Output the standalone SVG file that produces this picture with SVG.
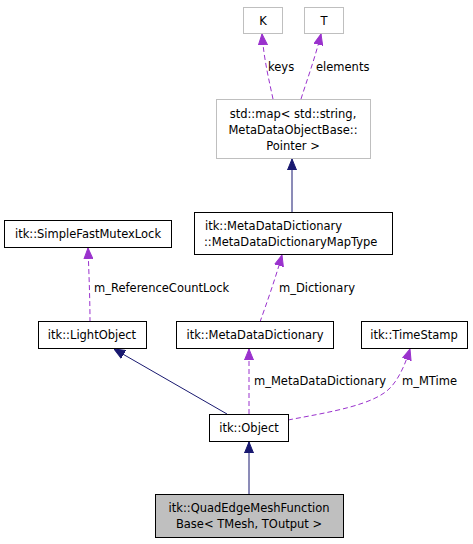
<svg xmlns="http://www.w3.org/2000/svg" width="473" height="544" viewBox="0 0 473 544">
<style>
text{font-family:"DejaVu Sans","Liberation Sans",sans-serif;font-size:11.5px;fill:#000}
.n{fill:#fff;stroke:#000;stroke-width:1}
.g{fill:#fff;stroke:#bfbfbf;stroke-width:1}
.h{fill:#bfbfbf;stroke:#000;stroke-width:1}
.d{fill:none;stroke:#9a32cd;stroke-width:1;stroke-dasharray:5,3}
.s{fill:none;stroke:#191970;stroke-width:1}
.m{text-anchor:middle}
</style>
<defs>
<marker id="ap" markerUnits="userSpaceOnUse" markerWidth="11" markerHeight="10" refX="11" refY="5" orient="auto" viewBox="0 0 11 10">
<path d="M0,0.5 L11,5 L0,9.5 z" fill="#9a32cd" stroke="#9a32cd"/>
</marker>
<marker id="as" markerUnits="userSpaceOnUse" markerWidth="11" markerHeight="10" refX="11" refY="5" orient="auto" viewBox="0 0 11 10">
<path d="M0,0.5 L11,5 L0,9.5 z" fill="#191970" stroke="#191970"/>
</marker>
</defs>
<g id="edges">
<path class="d" d="M273,99 C269,80 264,60 262,34" marker-end="url(#ap)"/>
<text x="268" y="71">keys</text>
<path class="d" d="M301,99 C307,80 315,58 321,34" marker-end="url(#ap)"/>
<text x="316" y="71">elements</text>
<path class="s" d="M292,212 L292,159" marker-end="url(#as)"/>
<path class="d" d="M90,322 C90,300 89,275 88,248" marker-end="url(#ap)"/>
<text x="94" y="292">m_ReferenceCountLock</text>
<path class="d" d="M260,322 C266,305 275,280 282,255" marker-end="url(#ap)"/>
<text x="279" y="292">m_Dictionary</text>
<path class="s" d="M227,414 L114,349" marker-end="url(#as)"/>
<path class="d" d="M249,414 L249,349" marker-end="url(#ap)"/>
<text x="254" y="385">m_MetaDataDictionary</text>
<path class="d" d="M288,420 C330,412 375,405 391,387 C400,377 406,362 410,349" marker-end="url(#ap)"/>
<text x="402" y="385">m_MTime</text>
<path class="s" d="M249,494 L249,442" marker-end="url(#as)"/>
</g>
<g id="K"><rect class="g" x="243.5" y="7.5" width="39" height="26"/><text class="m" x="263" y="24.5">K</text></g>
<g id="T"><rect class="g" x="304.5" y="7.5" width="39" height="26"/><text class="m" x="324" y="24.5">T</text></g>
<g id="stdmap"><rect class="g" x="216.5" y="99.5" width="154" height="59"/>
<text class="m" x="293" y="117.5">std::map&lt; std::string,</text>
<text class="m" x="293" y="133.5">MetaDataObjectBase::</text>
<text class="m" x="293" y="149.5">Pointer &gt;</text></g>
<g id="mutex"><rect class="n" x="4.5" y="220.5" width="167" height="27"/><text class="m" x="88" y="238">itk::SimpleFastMutexLock</text></g>
<g id="maptype"><rect class="n" x="194.5" y="212.5" width="198" height="42"/>
<text x="205" y="229.5">itk::MetaDataDictionary</text>
<text x="204" y="245.5">::MetaDataDictionaryMapType</text></g>
<g id="lightobject"><rect class="n" x="38.5" y="321.5" width="108" height="27"/><text class="m" x="92" y="339">itk::LightObject</text></g>
<g id="mdd"><rect class="n" x="176.5" y="321.5" width="157" height="27"/><text class="m" x="255" y="339">itk::MetaDataDictionary</text></g>
<g id="timestamp"><rect class="n" x="361.5" y="321.5" width="106" height="27"/><text class="m" x="414" y="339">itk::TimeStamp</text></g>
<g id="object"><rect class="n" x="209.5" y="414.5" width="79" height="27"/><text class="m" x="249" y="432">itk::Object</text></g>
<g id="quad"><rect class="h" x="155.5" y="494.5" width="188" height="43"/>
<text class="m" x="249" y="512">itk::QuadEdgeMeshFunction</text>
<text class="m" x="249" y="528">Base&lt; TMesh, TOutput &gt;</text></g>
</svg>
